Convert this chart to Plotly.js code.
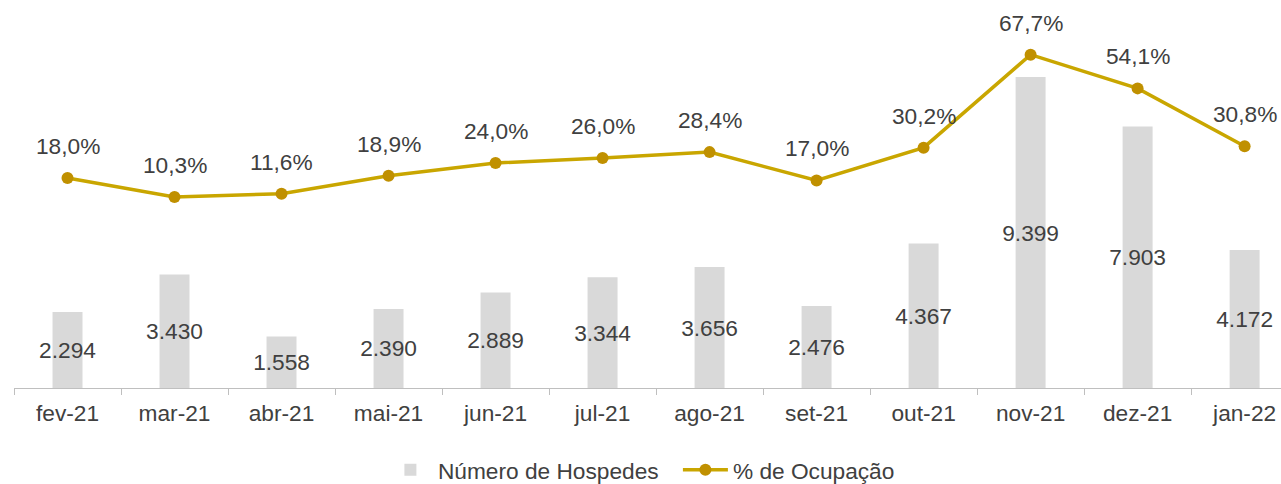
<!DOCTYPE html>
<html><head><meta charset="utf-8">
<script src="https://cdn.plot.ly/plotly-3.0.1.min.js"></script>
<style>html,body{margin:0;padding:0;background:#fff}#chart{width:1281px;height:484px}</style>
</head><body><div id="chart"></div>
<script>
const categories = ['fev-21','mar-21','abr-21','mai-21','jun-21','jul-21','ago-21','set-21','out-21','nov-21','dez-21','jan-22'];
const hospedes = [2294, 3430, 1558, 2390, 2889, 3344, 3656, 2476, 4367, 9399, 7903, 4172];
const ocupacao = [18.0, 10.3, 11.6, 18.9, 24.0, 26.0, 28.4, 17.0, 30.2, 67.7, 54.1, 30.8];

const txtColor = '#404040';
const fontFam = '"Liberation Sans", Arial, sans-serif';
const fs = 22.7;

const barTrace = {
  type: 'bar', name: 'Número de Hospedes', x: categories, y: hospedes,
  marker: {color: '#d9d9d9'}, width: 0.28,
  texttemplate: '%{y:,}', textposition: 'inside', insidetextanchor: 'middle',
  constraintext: 'none', textangle: 0,
  textfont: {family: fontFam, size: fs, color: txtColor},
  hoverinfo: 'skip'
};
const lineTrace = {
  type: 'scatter', mode: 'lines+markers', name: '% de Ocupação', x: categories, y: ocupacao,
  yaxis: 'y2', line: {color: '#c9a600', width: 3.5},
  marker: {color: '#c09000', size: 12},
  hoverinfo: 'skip'
};
const annotations = categories.map((c, i) => ({
  x: c, y: ocupacao[i], xref: 'x', yref: 'y2',
  text: ocupacao[i].toFixed(1).replace('.', ',') + '%',
  showarrow: false, yanchor: 'bottom', yshift: 17,
  font: {family: fontFam, size: fs, color: txtColor}
}));

const layout = {
  width: 1281, height: 484,
  margin: {l: 14, r: 0, t: 10, b: 96, autoexpand: false},
  paper_bgcolor: '#fff', plot_bgcolor: '#fff',
  separators: ',.',
  showlegend: true,
  legend: {orientation: 'h', x: 0.524, xanchor: 'center', y: -0.217, yanchor: 'middle',
    font: {family: fontFam, size: fs, color: txtColor}, itemwidth: 45, traceorder: 'normal',
    entrywidth: 235, entrywidthmode: 'pixels'},
  xaxis: {type: 'category', range: [-0.5, 11.34], showline: true, linecolor: '#bfbfbf', linewidth: 1,
    ticks: 'outside', tickson: 'boundaries', ticklen: 6, tickcolor: '#bfbfbf', ticklabelstandoff: 5,
    tickfont: {family: fontFam, size: fs, color: txtColor}, showgrid: false, zeroline: false, fixedrange: true},
  yaxis: {range: [0, 11424], visible: false, showgrid: false, zeroline: false, fixedrange: true},
  yaxis2: {range: [-66.7, 85.7], overlaying: 'y', side: 'right', visible: false, showgrid: false, zeroline: false, fixedrange: true},
  annotations: annotations,
  bargap: 0.72
};
Plotly.newPlot('chart', [barTrace, lineTrace], layout, {displayModeBar: false, staticPlot: true});
</script></body></html>
